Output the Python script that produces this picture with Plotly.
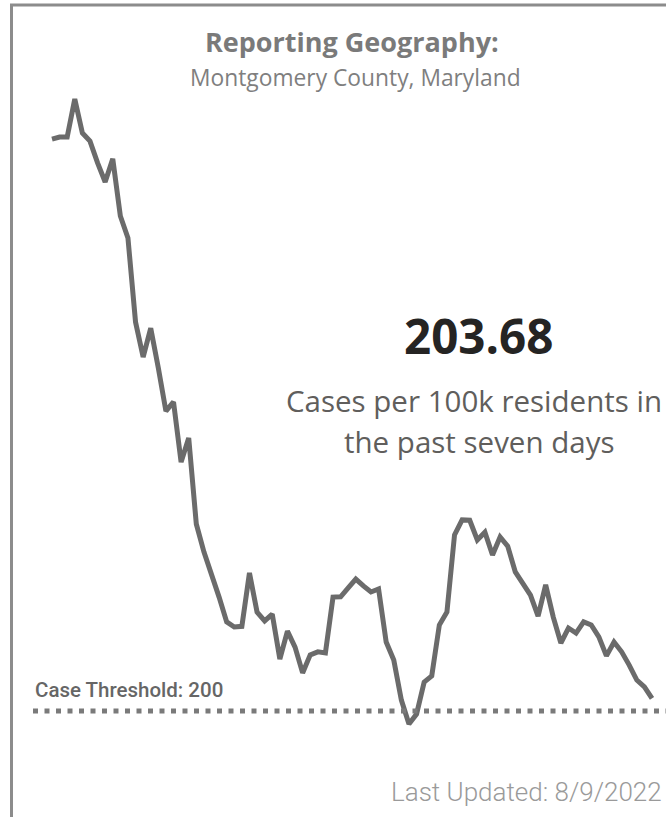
import plotly.graph_objects as go
import pandas as pd

# ---- data ----
end_date = "2022-08-09"
case_rate = [368.2, 368.8, 368.8, 380.0, 370.0, 367.6, 361.2, 355.6, 362.4, 345.6,
             339.1, 314.4, 304.1, 312.6, 300.9, 288.2, 290.9, 273.2, 280.3, 255.0,
             246.8, 240.6, 233.5, 226.2, 224.7, 224.9, 240.6, 229.1, 226.5, 228.5,
             215.3, 223.5, 218.8, 211.2, 216.5, 217.4, 217.1, 233.5, 233.6, 236.2,
             238.8, 236.8, 235.0, 235.9, 220.3, 215.0, 203.2, 196.2, 199.1, 208.5,
             210.3, 225.3, 229.1, 251.8, 256.2, 256.1, 250.3, 252.6, 245.9, 251.2,
             248.5, 240.9, 237.6, 234.1, 227.9, 237.1, 227.6, 220.0, 224.4, 222.9,
             226.2, 225.3, 221.8, 216.2, 220.3, 217.4, 213.5, 209.1, 207.1, 203.68]
threshold = 200
current_value = "203.68"
title_text = "Reporting Geography:"
geo_text = "Montgomery County, Maryland"
kpi_line1 = "Cases per 100k residents in"
kpi_line2 = "the past seven days"
threshold_label = "Case Threshold: 200"
updated_label = "Last Updated: 8/9/2022"

dates = pd.date_range(end=end_date, periods=len(case_rate), freq="D")

# ---- layout geometry (pixels) ----
W, H = 666, 817
x_first_px, x_last_px = 52, 652
px_per_day = (x_last_px - x_first_px) / (len(case_rate) - 1)
y_thr_px, px_per_unit = 711, 3.4

x0 = dates[0] - pd.Timedelta(days=x_first_px / px_per_day)
x1 = dates[0] + pd.Timedelta(days=(W - x_first_px) / px_per_day)
y_top = threshold + y_thr_px / px_per_unit
y_bot = threshold - (H - y_thr_px) / px_per_unit

def px(x):
    return x / W

def py(y):
    return 1 - y / H

fig = go.Figure()
fig.add_trace(go.Scatter(x=dates, y=case_rate, mode="lines",
                         line=dict(color="#6b6b6b", width=5),
                         hoverinfo="skip", showlegend=False))

fig.update_layout(
    width=W, height=H,
    margin=dict(l=0, r=0, t=0, b=0),
    paper_bgcolor="white", plot_bgcolor="white",
    xaxis=dict(range=[x0, x1], visible=False, fixedrange=True),
    yaxis=dict(range=[y_bot, y_top], visible=False, fixedrange=True),
    showlegend=False,
)

# border (top + left visible)
fig.add_shape(type="rect", xref="paper", yref="paper",
              x0=px(11.5), x1=1.05, y0=-0.05, y1=py(5),
              line=dict(color="#8c8c8c", width=3), fillcolor="rgba(0,0,0,0)")

# threshold dotted line
fig.add_shape(type="line", xref="paper", yref="y",
              x0=px(33), x1=1.0, y0=threshold, y1=threshold,
              line=dict(color="#7a7a7a", width=5, dash="5px,6.5px"))

ann = [
    dict(text="<b>" + title_text + "</b>", x=px(352), y=py(42), xanchor="center", yanchor="middle",
         font=dict(family="Open Sans", size=27, color="#7a7a7a")),
    dict(text=geo_text, x=px(355), y=py(78), xanchor="center", yanchor="middle",
         font=dict(family="Open Sans", size=22.8, color="#7f7f7f")),
    dict(text="<b>" + current_value + "</b>", x=px(478), y=py(336), xanchor="center", yanchor="middle",
         font=dict(family="Open Sans", size=47.5, color="#252423")),
    dict(text=kpi_line1, x=px(474), y=py(400), xanchor="center", yanchor="middle",
         font=dict(family="Open Sans", size=29.5, color="#605e5c")),
    dict(text=kpi_line2, x=px(479), y=py(441), xanchor="center", yanchor="middle",
         font=dict(family="Open Sans", size=29.5, color="#605e5c")),
    dict(text=threshold_label, x=px(33), y=py(690), xanchor="left", yanchor="middle",
         font=dict(family="Roboto", size=20.5, color="#666666", weight=500)),
    dict(text=updated_label, x=px(664), y=py(792), xanchor="right", yanchor="middle",
         font=dict(family="Roboto", size=26, color="#9a9a9a", weight=300)),
]
for a in ann:
    a.update(xref="paper", yref="paper", showarrow=False)
    fig.add_annotation(**a)

fig.write_html("out.html", config={"displayModeBar": False},
               post_script="document.body.style.margin='0px';")
